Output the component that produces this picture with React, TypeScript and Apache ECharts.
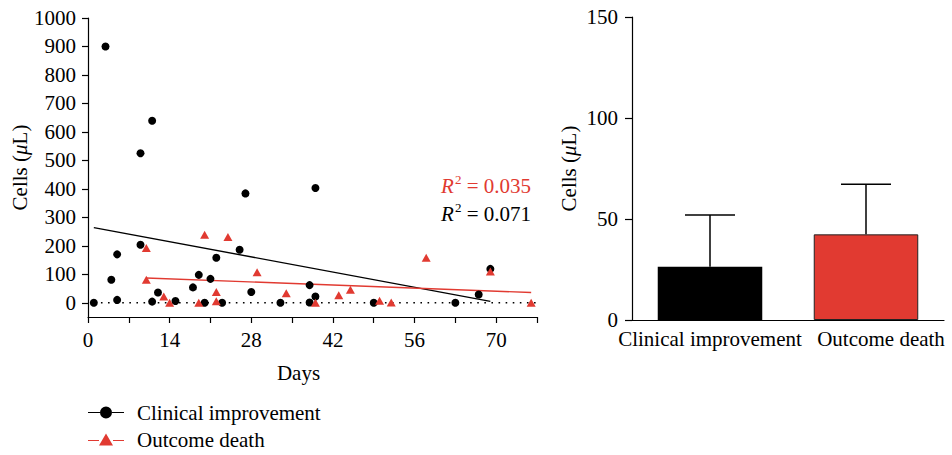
import React, { useEffect, useRef } from 'react';
import * as echarts from 'echarts';

const FONT = 'Liberation Serif';
const RED = '#e13a31';
const FS = 21;

// Scatter data (days, cells/μL)
const clinicalDays = [1, 3, 4, 5, 5, 9, 9, 11, 11, 12, 15, 18, 19, 20, 21, 22, 23, 26, 27, 28, 33, 38, 38, 39, 39, 49, 63, 67, 69];
const clinicalCells = [0, 900, 81, 170, 10, 525, 204, 639, 4, 36, 6, 54, 98, 0, 84, 158, 0, 186, 384, 38, 0, 62, 1, 403, 22, 0, 0, 29, 119];
const deathDays = [10, 10, 13, 14, 19, 20, 22, 22, 24, 29, 34, 39, 43, 45, 50, 52, 58, 69, 76];
const deathCells = [192, 81, 22, 0, 0, 239, 38, 5, 231, 107, 33, 0, 26, 46, 7, 1, 158, 110, 0];

// Regression lines (end points)
const clinicalFitDays = [1, 69];
const clinicalFitCells = [264, 5];
const deathFitDays = [10, 76];
const deathFitCells = [87, 36];
const zeroLineDays = [1, 77];

const scatterYTicks = [0, 100, 200, 300, 400, 500, 600, 700, 800, 900, 1000];
const r2Values = ['0.035', '0.071'];

// Bar data
const barCategories = ['Clinical improvement', 'Outcome death'];
const barMeans = [26.4, 42.4];
const barUpper = [52, 67.2];
const barColors = ['#000000', RED];

const zip = (a: number[], b: number[]) => a.map((v, i) => [v, b[i]]);

export default function App() {
  const ref = useRef<HTMLDivElement>(null);
  useEffect(() => {
    if (!ref.current) return;
    const chart = echarts.init(ref.current, undefined, { renderer: 'svg' });
    const axisLine = { show: true, onZero: false, lineStyle: { color: '#000', width: 1.2 } };
    const tickStyle = { color: '#000', width: 1.2 };
    const labelBase = { color: '#000', fontSize: FS, fontFamily: FONT };
    const nameRich = {
      n: { fontSize: FS, fontFamily: FONT, color: '#000' },
      i: { fontSize: FS, fontFamily: FONT, color: '#000', fontStyle: 'italic' },
    };
    const r2Rich = (c: string) => ({
      i: { fontSize: FS, fontFamily: FONT, fontStyle: 'italic', fill: c },
      s: { fontSize: 13, fontFamily: FONT, fill: c, padding: [0, 0, 14, 1] },
      t: { fontSize: FS, fontFamily: FONT, fill: c },
    });
    const option: any = {
      animation: false,
      textStyle: { fontFamily: FONT },
      grid: [
        { left: 88, top: 18, width: 449, height: 299 },
        { left: 632, top: 17, width: 312, height: 303 },
      ],
      xAxis: [
        {
          type: 'value', gridIndex: 0, min: 0, max: 77, interval: 7,
          axisLine, axisTick: { show: true, length: 6, lineStyle: tickStyle },
          axisLabel: { ...labelBase, margin: 12, formatter: (v: number) => (v % 14 === 0 ? String(v) : '') },
          splitLine: { show: false },
          name: 'Days', nameLocation: 'middle', nameGap: 45,
          nameTextStyle: { ...labelBase, padding: [0, 28, 0, 0] },
        },
        {
          type: 'category', gridIndex: 1, data: barCategories,
          axisLine, axisTick: { show: false },
          axisLabel: {
            ...labelBase, margin: 8, interval: 0, overflow: 'none',
            formatter: (v: string, i: number) => (i === 1 ? `{b|${v}}` : `{a|${v}}`),
            rich: {
              a: { ...labelBase },
              b: { ...labelBase, padding: [0, 0, 0, 30] },
            },
          },
        },
      ],
      yAxis: [
        {
          type: 'value', gridIndex: 0, min: -50, max: 1000,
          axisLine, axisTick: { show: true, length: 6, lineStyle: tickStyle, customValues: scatterYTicks },
          axisLabel: { ...labelBase, margin: 12, customValues: scatterYTicks, formatter: (v: number) => String(v) },
          splitLine: { show: false },
          name: '{n|Cells (}{i|μ}{n|L)}', nameLocation: 'middle', nameGap: 56, nameRotate: 90,
          nameTextStyle: { rich: nameRich },
        },
        {
          type: 'value', gridIndex: 1, min: 0, max: 150, interval: 50,
          axisLine, axisTick: { show: true, length: 7, lineStyle: tickStyle },
          axisLabel: { ...labelBase, margin: 14, formatter: (v: number) => String(v) },
          splitLine: { show: false },
          name: '{n|Cells (}{i|μ}{n|L)}', nameLocation: 'middle', nameGap: 53, nameRotate: 90,
          nameTextStyle: { rich: nameRich },
        },
      ],
      legend: {
        orient: 'vertical', left: 88, top: 402, padding: 0,
        itemWidth: 52, itemHeight: 12, itemGap: 6,
        symbolKeepAspect: true,
        textStyle: { ...labelBase, lineHeight: 21 },
        data: [
          { name: 'Clinical improvement', icon: 'path://M0,5.4H12V6.6H0Z M24,5.4H36V6.6H24Z M24,6A6,6 0 1,1 12,6A6,6 0 1,1 24,6Z' },
          { name: 'Outcome death', icon: 'path://M0,6.4H11V7.6H0Z M25,6.4H36V7.6H25Z M18,0L25,12H11Z' },
        ],
      },
      series: [
        {
          type: 'line', xAxisIndex: 0, yAxisIndex: 0, data: zip(zeroLineDays, [0, 0]),
          symbol: 'none', lineStyle: { color: '#000', width: 1.6, type: [1.6, 5.5] }, silent: true, z: 1,
        },
        {
          type: 'line', xAxisIndex: 0, yAxisIndex: 0, data: zip(clinicalFitDays, clinicalFitCells),
          symbol: 'none', lineStyle: { color: '#000', width: 1.4 }, silent: true, z: 2,
        },
        {
          type: 'line', xAxisIndex: 0, yAxisIndex: 0, data: zip(deathFitDays, deathFitCells),
          symbol: 'none', lineStyle: { color: RED, width: 1.4 }, silent: true, z: 2,
        },
        {
          name: 'Clinical improvement', type: 'scatter', xAxisIndex: 0, yAxisIndex: 0,
          data: zip(clinicalDays, clinicalCells), symbol: 'circle', symbolSize: 8,
          itemStyle: { color: '#000', opacity: 1 }, z: 3,
        },
        {
          name: 'Outcome death', type: 'scatter', xAxisIndex: 0, yAxisIndex: 0,
          data: zip(deathDays, deathCells), symbol: 'triangle', symbolSize: [9, 8],
          itemStyle: { color: RED, opacity: 1 }, z: 4,
        },
        {
          type: 'bar', xAxisIndex: 1, yAxisIndex: 1, barWidth: '67%',
          data: barMeans.map((v, i) => ({
            value: v,
            itemStyle: { color: barColors[i], borderColor: '#222', borderWidth: i === 1 ? 1 : 0 },
          })),
          z: 2,
        },
        {
          type: 'custom', xAxisIndex: 1, yAxisIndex: 1,
          data: barMeans.map((v, i) => [i, v, barUpper[i]]),
          renderItem: (params: any, api: any) => {
            const x = api.value(0);
            const lo = api.coord([x, api.value(1)]);
            const hi = api.coord([x, api.value(2)]);
            const st = { stroke: '#000', lineWidth: 1.5 };
            return {
              type: 'group',
              children: [
                { type: 'line', shape: { x1: lo[0], y1: lo[1], x2: hi[0], y2: hi[1] }, style: st },
                { type: 'line', shape: { x1: hi[0] - 25, y1: hi[1], x2: hi[0] + 25, y2: hi[1] }, style: st },
              ],
            };
          },
          z: 3,
        },
      ],
      graphic: [
        {
          type: 'text', x: 531, y: 186,
          style: {
            text: `{i|R}{s|2}{t| = ${r2Values[0]}}`, align: 'right', verticalAlign: 'middle',
            fill: RED, rich: r2Rich(RED),
          },
        },
        {
          type: 'text', x: 531, y: 214,
          style: {
            text: `{i|R}{s|2}{t| = ${r2Values[1]}}`, align: 'right', verticalAlign: 'middle',
            fill: '#000', rich: r2Rich('#000'),
          },
        },
      ],
    };
    chart.setOption(option);
    return () => chart.dispose();
  }, []);
  return <div ref={ref} style={{ position: 'absolute', left: 0, top: 0, width: 952, height: 455 }} />;
}
